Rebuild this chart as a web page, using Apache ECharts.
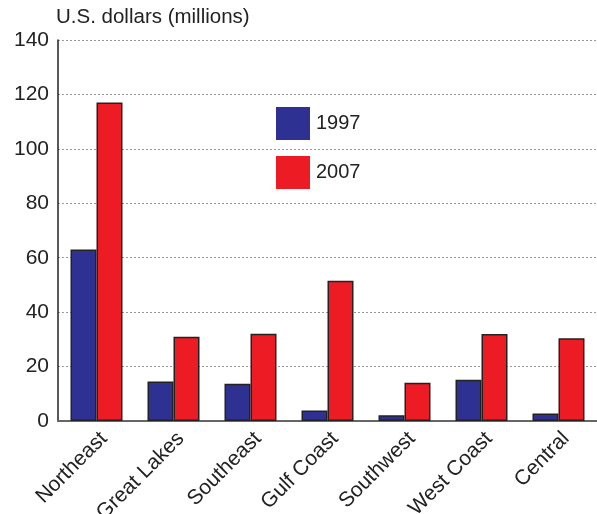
<!DOCTYPE html>
<html>
<head>
<meta charset="utf-8">
<script src="https://cdn.jsdelivr.net/npm/echarts@6/dist/echarts.min.js"></script>
<style>
  html, body { margin: 0; padding: 0; background: #fff; }
  #chart { width: 597px; height: 514px; }
</style>
</head>
<body>
<div id="chart"></div>
<script>
// Regional values, 1997 vs 2007 (U.S. dollars, millions)
const regions = ['Northeast', 'Great Lakes', 'Southeast', 'Gulf Coast', 'Southwest', 'West Coast', 'Central']
const values1997 = [63, 14.5, 13.7, 3.9, 2.1, 15.2, 2.8]
const values2007 = [117, 31, 32.1, 51.5, 14.1, 32, 30.4]
const yTicks = { min: 0, max: 140, interval: 20 }

const font = 'Liberation Sans, Arial, sans-serif'
const chart = echarts.init(document.getElementById('chart'), null, { renderer: 'canvas' })

chart.setOption({
  backgroundColor: '#fff',
  animation: false,
  grid: { left: 58, right: 0, top: 40, bottom: 93, containLabel: false, outerBoundsMode: 'none' },
  legend: {
    orient: 'vertical',
    left: 276,
    top: 107,
    padding: 0,
    itemWidth: 34,
    itemHeight: 33,
    itemGap: 16,
    icon: 'rect',
    itemStyle: { borderWidth: 0 },
    textStyle: { fontFamily: font, fontSize: 20, color: '#222', padding: [0, 0, 0, 1] },
    data: ['1997', '2007'],
  },
  xAxis: {
    type: 'category',
    data: regions,
    axisLine: { lineStyle: { color: '#666', width: 2 } },
    axisTick: { show: false },
    axisLabel: {
      rotate: 45,
      interval: 0,
      margin: 7,
      verticalAlign: 'top',
      fontFamily: font,
      fontSize: 21,
      color: '#222',
    },
  },
  yAxis: {
    type: 'value',
    min: yTicks.min,
    max: yTicks.max,
    interval: yTicks.interval,
    name: 'U.S. dollars (millions)',
    nameLocation: 'end',
    nameGap: 12,
    nameTextStyle: { fontFamily: font, fontSize: 20.5, color: '#222', align: 'left', padding: [0, 0, 0, -2] },
    axisLine: { show: true, lineStyle: { color: '#222', width: 1.5 } },
    axisTick: { show: false },
    axisLabel: { fontFamily: font, fontSize: 21, color: '#222', margin: 9 },
    splitLine: { lineStyle: { color: '#999', type: [2, 2], width: 1 } },
  },
  series: [
    {
      name: '1997',
      type: 'bar',
      data: values1997,
      barWidth: 26,
      barGap: '0%',
      itemStyle: { color: '#2e3192', borderColor: '#222', borderWidth: 1.5 },
    },
    {
      name: '2007',
      type: 'bar',
      data: values2007,
      barWidth: 26,
      itemStyle: { color: '#ed1c24', borderColor: '#222', borderWidth: 1.5 },
    },
  ],
})
</script>
</body>
</html>
